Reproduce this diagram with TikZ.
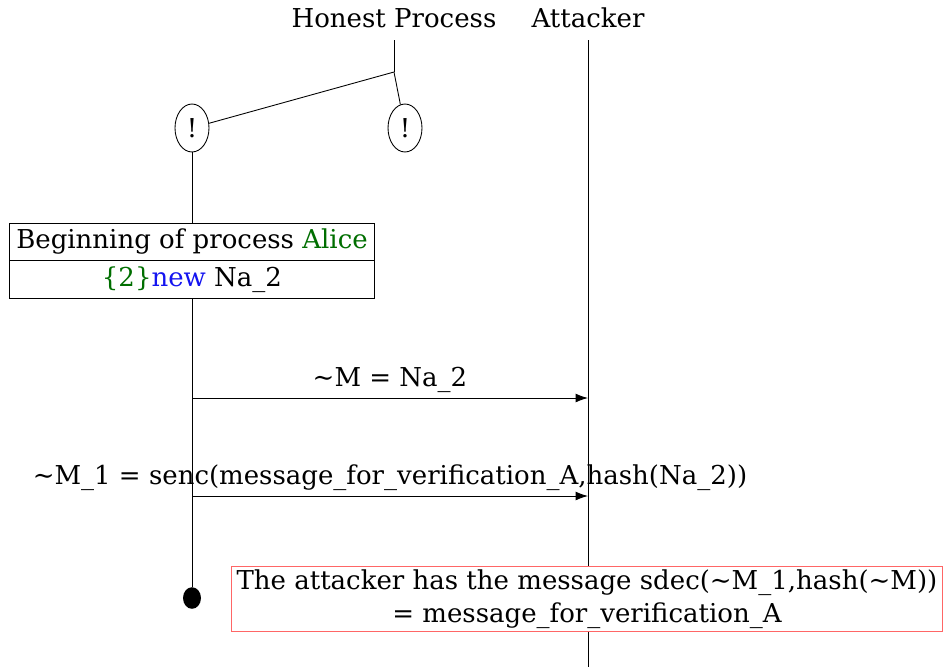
\documentclass[tikz,border=0pt]{standalone}
\usepackage{fontspec}
\setmainfont{DejaVu Serif}
\usetikzlibrary{shapes.geometric,shapes.multipart,arrows.meta}
\definecolor{alicegreen}{RGB}{0,110,0}
\definecolor{newblue}{RGB}{20,20,240}

\begin{document}
\begin{tikzpicture}[x=0.02cm,y=-0.02cm,line width=0.5pt]
\fontsize{14.8}{18.5}\selectfont
\newcommand\viesti[3]{
\coordinate (l#1) at (192,#2);
\coordinate (r#1) at (588,#2);
\path[draw,-{Latex[length=7pt,width=5pt]}] (l#1) -- node[above=-2pt] {#3} (r#1);
}
\useasboundingbox (0,0) rectangle (947,667);

\node (hp) at (394,18) {Honest Process};
\node (att) at (588,18) {Attacker};
\coordinate (hp0) at (394,40);
\coordinate (split) at (394,72);
\coordinate (att0) at (588,40);
\coordinate (att1) at (588,667);

\node[draw,ellipse,minimum width=0.68cm,minimum height=0.96cm,inner sep=0pt] (1) at (192,128) {!};
\node[draw,ellipse,minimum width=0.68cm,minimum height=0.96cm,inner sep=0pt] (2) at (405,128) {!};

\path[draw] (hp0) -- (split);
\path[draw] (split) -- (1);
\path[draw] (split) -- (2);
\path[draw] (att0) -- (att1);

\node[draw,rectangle split,rectangle split parts=2,inner xsep=4pt,inner ysep=3pt,
  text height=11pt,text depth=3.5pt,align=center] (alku) at (192,261)
  {Beginning of process \textcolor{alicegreen}{Alice}
   \nodepart{two} \textcolor{alicegreen}{\{2\}}\textcolor{newblue}{new} Na\_2};
\node[circle,fill=black,minimum width=0.36cm,yscale=1.2,inner sep=0pt] (loppu) at (192,598) {};

\path[draw] (1) -- (alku);
\path[draw] (alku) -- (loppu);

\viesti{1}{398}{\char`\~M = Na\_2}
\viesti{2}{496}{\char`\~M\_1 = senc(message\_for\_verification\_A,hash(Na\_2))}

\node[draw=red!60,fill=white,align=center,inner xsep=3pt,inner ysep=2pt] (hyokkaaja) at (587,599)
  {The attacker has the message sdec(\char`\~M\_1,hash(\char`\~M))\\= message\_for\_verification\_A};
\end{tikzpicture}
\end{document}
